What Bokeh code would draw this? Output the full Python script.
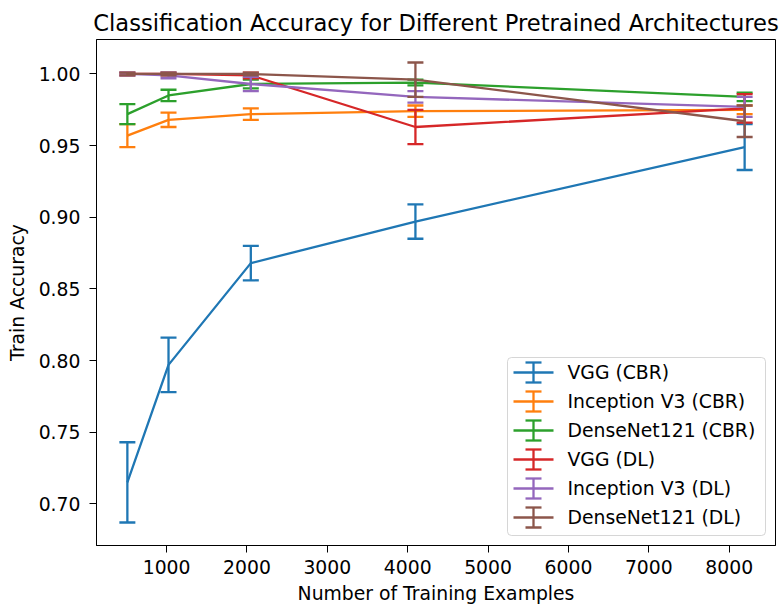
from bokeh.plotting import figure
from bokeh.models import (ColumnDataSource, FixedTicker, PrintfTickFormatter, Range1d,
                          BoxAnnotation, Arrow, TeeHead, Label)
from bokeh.embed import file_html
from bokeh.resources import INLINE

# ---------------- data ----------------
train_sizes = [512, 1024, 2048, 4096, 8192]

vgg_cbr = [0.715, 0.797, 0.868, 0.897, 0.949]
vgg_cbr_err = [0.028, 0.019, 0.012, 0.012, 0.016]

inception_cbr = [0.957, 0.968, 0.972, 0.974, 0.975]
inception_cbr_err = [0.008, 0.005, 0.004, 0.004, 0.003]

densenet_cbr = [0.972, 0.985, 0.993, 0.994, 0.984]
densenet_cbr_err = [0.007, 0.004, 0.003, 0.002, 0.003]

vgg_dl = [1.000, 1.000, 0.999, 0.963, 0.976]
vgg_dl_err = [0.001, 0.001, 0.002, 0.012, 0.010]

inception_dl = [1.000, 0.999, 0.993, 0.984, 0.977]
inception_dl_err = [0.001, 0.002, 0.005, 0.004, 0.007]

densenet_dl = [1.000, 1.000, 1.000, 0.996, 0.967]
densenet_dl_err = [0.001, 0.001, 0.001, 0.012, 0.011]

series_names = ["VGG (CBR)", "Inception V3 (CBR)", "DenseNet121 (CBR)",
                "VGG (DL)", "Inception V3 (DL)", "DenseNet121 (DL)"]
series_values = [vgg_cbr, inception_cbr, densenet_cbr, vgg_dl, inception_dl, densenet_dl]
series_errors = [vgg_cbr_err, inception_cbr_err, densenet_cbr_err,
                 vgg_dl_err, inception_dl_err, densenet_dl_err]
colors = ["#1f77b4", "#ff7f0e", "#2ca02c", "#d62728", "#9467bd", "#8c564b"]

x_ticks = [1000, 2000, 3000, 4000, 5000, 6000, 7000, 8000]
y_ticks = [0.70, 0.75, 0.80, 0.85, 0.90, 0.95, 1.00]

title_text = "Classification Accuracy for Different Pretrained Architectures"
x_label = "Number of Training Examples"
y_label = "Train Accuracy"

# ---------------- styles ----------------
FONT = "DejaVu Sans"
FS = "18.8px"
LW = 2.3
CAP = 16

# matplotlib-like 5% margins
xmin, xmax = min(train_sizes), max(train_sizes)
lows = [v - e for vals, errs in zip(series_values, series_errors) for v, e in zip(vals, errs)]
highs = [v + e for vals, errs in zip(series_values, series_errors) for v, e in zip(vals, errs)]
ymin, ymax = min(lows), max(highs)
xpad = 0.05 * (xmax - xmin)
ypad = 0.05 * (ymax - ymin)

W, H = 783, 606
BL, BR, BT, BB = 96, 8, 39, 61

p = figure(width=W, height=H, output_backend="svg", toolbar_location=None, tools="",
           x_range=Range1d(xmin - xpad, xmax + xpad),
           y_range=Range1d(ymin - ypad, ymax + ypad),
           min_border_left=BL, min_border_right=BR, min_border_top=BT, min_border_bottom=BB)

p.background_fill_color = "white"
p.border_fill_color = "white"
p.outline_line_color = "black"
p.outline_line_alpha = 1.0
p.outline_line_width = 1
p.xgrid.visible = False
p.ygrid.visible = False

p.title.text = title_text
p.title.align = "center"
p.title.text_font = FONT
p.title.text_font_size = "22.6px"
p.title.text_font_style = "normal"
p.title.text_color = "black"
p.title.standoff = 8

p.xaxis.ticker = FixedTicker(ticks=x_ticks)
p.yaxis.ticker = FixedTicker(ticks=y_ticks)
p.yaxis.formatter = PrintfTickFormatter(format="%.2f")
p.xaxis.axis_label = x_label
p.yaxis.axis_label = y_label

for ax in (p.xaxis, p.yaxis):
    ax.axis_line_color = "black"
    ax.major_tick_line_color = "black"
    ax.major_tick_in = 0
    ax.major_tick_out = 7
    ax.minor_tick_line_color = None
    ax.major_label_text_font = FONT
    ax.major_label_text_font_size = FS
    ax.major_label_text_color = "black"
    ax.axis_label_text_font = FONT
    ax.axis_label_text_font_size = FS
    ax.axis_label_text_font_style = "normal"
    ax.axis_label_text_color = "black"
p.xaxis.major_label_standoff = 7
p.xaxis.axis_label_standoff = 6
p.yaxis.major_label_standoff = 9
p.yaxis.axis_label_standoff = 8

# ---------------- series with error bars ----------------
for name, vals, errs, c in zip(series_names, series_values, series_errors, colors):
    src = ColumnDataSource(dict(
        x=train_sizes, y=vals,
        lo=[v - e for v, e in zip(vals, errs)],
        hi=[v + e for v, e in zip(vals, errs)],
    ))
    p.line("x", "y", source=src, line_color=c, line_width=LW)
    p.segment(x0="x", y0="lo", x1="x", y1="hi", source=src, line_color=c, line_width=LW)
    p.scatter("x", "lo", source=src, marker="dash", size=CAP, line_color=c, line_width=LW)
    p.scatter("x", "hi", source=src, marker="dash", size=CAP, line_color=c, line_width=LW)

# ---------------- legend (matplotlib errorbar style) ----------------
frame_w = W - BL - BR
box_right = frame_w - 10
box_left = box_right - 258
box_bottom = 10
box_top = 188
p.add_layout(BoxAnnotation(left=box_left, right=box_right, bottom=box_bottom, top=box_top,
                           left_units="screen", right_units="screen",
                           bottom_units="screen", top_units="screen",
                           fill_color="white", fill_alpha=0.8,
                           line_color="#cccccc", line_alpha=0.8, line_width=1,
                           border_radius=4))
row_y = [173, 144, 115, 86, 57, 28]
for name, c, ry in zip(series_names, colors, row_y):
    p.add_layout(Arrow(x_start=box_left + 6, y_start=ry, x_end=box_left + 46, y_end=ry,
                       start_units="screen", end_units="screen", start=None, end=None,
                       line_color=c, line_width=LW))
    p.add_layout(Arrow(x_start=box_left + 26, y_start=ry - 10, x_end=box_left + 26, y_end=ry + 10,
                       start_units="screen", end_units="screen",
                       start=TeeHead(size=CAP, line_color=c, line_width=LW),
                       end=TeeHead(size=CAP, line_color=c, line_width=LW),
                       line_color=c, line_width=LW))
    p.add_layout(Label(x=box_left + 60, y=ry, x_units="screen", y_units="screen", text=name,
                       text_font=FONT, text_font_size=FS, text_color="black",
                       text_baseline="middle", text_align="left"))

open("out.html", "w").write(file_html(p, INLINE))
